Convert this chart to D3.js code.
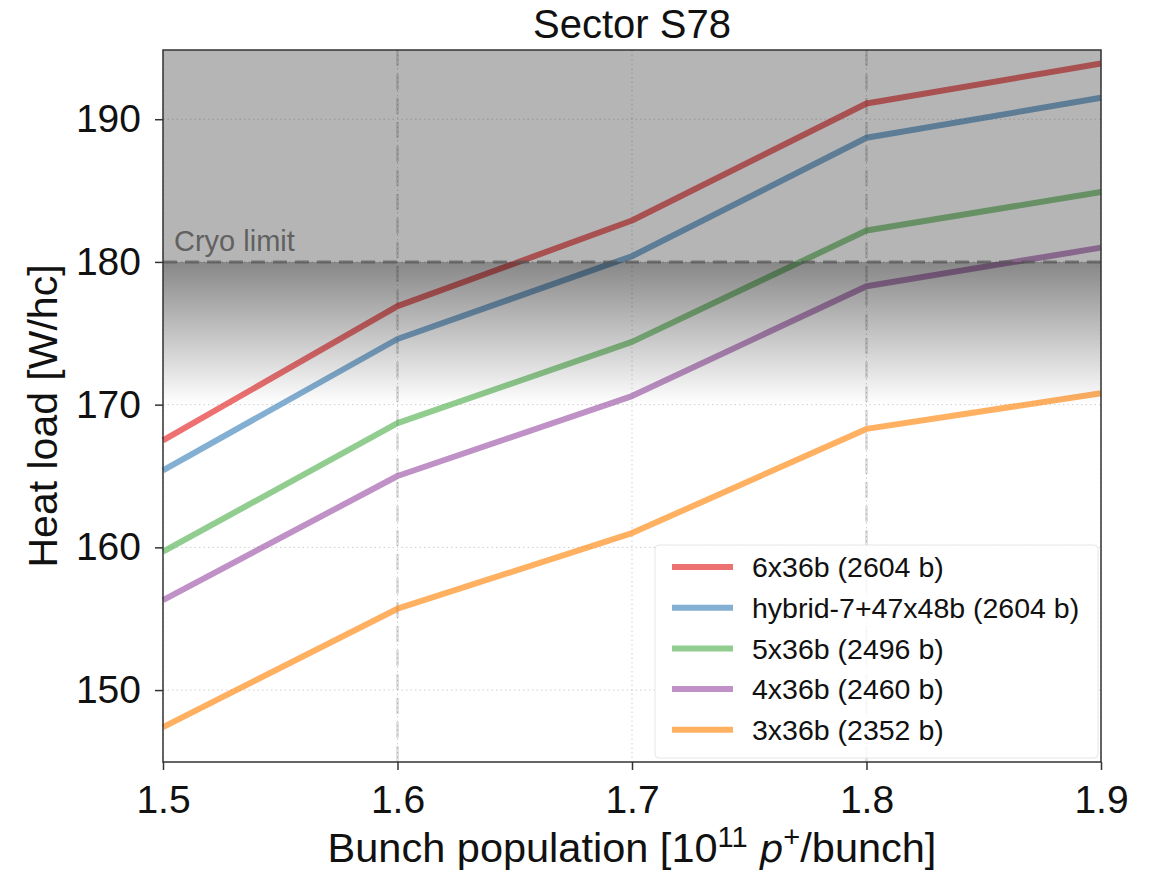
<!DOCTYPE html>
<html>
<head>
<meta charset="utf-8">
<script src="https://cdn.jsdelivr.net/npm/d3@7"></script>
<style>
  body { margin: 0; background: #fff; }
  svg text { font-family: "Liberation Sans", Arial, sans-serif; }
</style>
</head>
<body>
<div id="chart"></div>
<script>
// values
var bunchPop = [1.5, 1.6, 1.7, 1.8, 1.9];
var load6x36 = [167.5, 176.9, 182.9, 191.1, 193.9];
var loadHybrid = [165.4, 174.6, 180.4, 188.7, 191.5];
var load5x36 = [159.7, 168.7, 174.4, 182.2, 184.9];
var load4x36 = [156.3, 165.0, 170.6, 178.3, 181.0];
var load3x36 = [147.4, 155.7, 161.0, 168.3, 170.8];
var seriesNames = ["6x36b (2604 b)", "hybrid-7+47x48b (2604 b)", "5x36b (2496 b)", "4x36b (2460 b)", "3x36b (2352 b)"];
var seriesColors = ["#e41a1c", "#377eb8", "#4daf4a", "#984ea3", "#ff7f00"];
var xTicks = [1.5, 1.6, 1.7, 1.8, 1.9];
var yTicks = [150, 160, 170, 180, 190];
var dashedX = [1.6, 1.8];
var cryoLimit = 180;
var fadeTo = 170;

var series = [load6x36, loadHybrid, load5x36, load4x36, load3x36].map(function(vals, i) {
  return { name: seriesNames[i], color: seriesColors[i],
           points: vals.map(function(v, j) { return { x: bunchPop[j], y: v }; }) };
});

var svgWidth = 1150, svgHeight = 873;
var margin = { top: 50, right: 49, bottom: 111, left: 163 };
var width = svgWidth - margin.left - margin.right;
var height = svgHeight - margin.top - margin.bottom;

var svg = d3.select("#chart").append("svg")
  .attr("width", svgWidth)
  .attr("height", svgHeight);

var g = svg.append("g")
  .attr("transform", `translate(${margin.left}, ${margin.top})`);

var x = d3.scaleLinear().domain([1.5, 1.9]).range([0, width]);
var y = d3.scaleLinear().domain([144.96, 194.85]).range([height, 0]);

// dotted grid
g.append("g").selectAll("line")
  .data(yTicks).enter().append("line")
  .attr("x1", 0).attr("x2", width)
  .attr("y1", d => y(d)).attr("y2", d => y(d))
  .attr("stroke", "#cfcfcf").attr("stroke-width", 1)
  .attr("stroke-dasharray", "1.5,3");
g.append("g").selectAll("line")
  .data(xTicks).enter().append("line")
  .attr("y1", 0).attr("y2", height)
  .attr("x1", d => x(d)).attr("x2", d => x(d))
  .attr("stroke", "#cfcfcf").attr("stroke-width", 1)
  .attr("stroke-dasharray", "1.5,3");

// dashed vertical markers
g.append("g").selectAll("line")
  .data(dashedX).enter().append("line")
  .attr("y1", 0).attr("y2", height)
  .attr("x1", d => x(d)).attr("x2", d => x(d))
  .attr("stroke", "#000").attr("stroke-opacity", 0.12)
  .attr("stroke-width", 3)
  .attr("stroke-dasharray", "16,8");

// data lines
var line = d3.line().x(d => x(d.x)).y(d => y(d.y));
g.append("g").selectAll("path")
  .data(series).enter().append("path")
  .attr("d", d => line(d.points))
  .attr("fill", "none")
  .attr("stroke", d => d.color)
  .attr("stroke-opacity", 0.62)
  .attr("stroke-width", 6)
  .attr("stroke-linejoin", "round");

// shading above the cryo limit and fade below it
var defs = svg.append("defs");
var grad = defs.append("linearGradient")
  .attr("id", "fade").attr("x1", 0).attr("y1", 0).attr("x2", 0).attr("y2", 1);
grad.append("stop").attr("offset", "0%").attr("stop-color", "#000").attr("stop-opacity", 0.47);
grad.append("stop").attr("offset", "100%").attr("stop-color", "#000").attr("stop-opacity", 0);

g.append("rect")
  .attr("x", 0).attr("y", 0)
  .attr("width", width).attr("height", y(cryoLimit))
  .attr("fill", "#000").attr("fill-opacity", 0.29);
g.append("rect")
  .attr("x", 0).attr("y", y(cryoLimit))
  .attr("width", width).attr("height", y(fadeTo) - y(cryoLimit))
  .attr("fill", "url(#fade)");

// cryo limit line
g.append("line")
  .attr("x1", 0).attr("x2", width)
  .attr("y1", y(cryoLimit)).attr("y2", y(cryoLimit))
  .attr("stroke", "#555").attr("stroke-opacity", 0.7)
  .attr("stroke-width", 3)
  .attr("stroke-dasharray", "14,8");
g.append("text")
  .attr("x", 11).attr("y", y(cryoLimit) - 11)
  .attr("font-size", "29px")
  .attr("fill", "#616161")
  .text("Cryo limit");

// legend
var legend = g.append("g").attr("transform", `translate(${655 - margin.left}, ${545 - margin.top})`);
legend.append("rect")
  .attr("width", 443).attr("height", 213)
  .attr("rx", 4)
  .attr("fill", "#fff").attr("fill-opacity", 0.85)
  .attr("stroke", "#e6e6e6").attr("stroke-width", 1);
var items = legend.selectAll("g.item")
  .data(series).enter().append("g")
  .attr("class", "item")
  .attr("transform", (d, i) => `translate(0, ${22 + i * 40.7})`);
items.append("line")
  .attr("x1", 17).attr("x2", 78)
  .attr("stroke", d => d.color).attr("stroke-opacity", 0.62)
  .attr("stroke-width", 6);
items.append("text")
  .attr("x", 97).attr("dy", "0.36em")
  .attr("font-size", "28.5px")
  .attr("fill", "#111")
  .text(d => d.name);

// axes
var leftAxis = d3.axisLeft(y).tickValues(yTicks).tickSize(8).tickSizeOuter(0).tickPadding(14);
var bottomAxis = d3.axisBottom(x).tickValues(xTicks).tickSize(8).tickSizeOuter(0).tickPadding(15)
  .tickFormat(d3.format(".1f"));

var yAxis = g.append("g").call(leftAxis);
var xAxis = g.append("g").attr("transform", `translate(0, ${height})`).call(bottomAxis);
[yAxis, xAxis].forEach(function(a) {
  a.select(".domain").remove();
  a.selectAll("line").attr("stroke", "#333").attr("stroke-width", 1.5);
  a.selectAll("text").attr("font-size", "39px").attr("fill", "#111")
    .attr("font-family", "'Liberation Sans', Arial, sans-serif");
});

// frame
g.append("rect")
  .attr("width", width).attr("height", height)
  .attr("fill", "none").attr("stroke", "#333").attr("stroke-width", 1.5);

// title and axis labels
svg.append("text")
  .attr("x", margin.left + width / 2).attr("y", 38)
  .attr("text-anchor", "middle")
  .attr("font-size", "40px").attr("fill", "#111")
  .text("Sector S78");

var xLabel = svg.append("text")
  .attr("x", margin.left + width / 2).attr("y", 862)
  .attr("text-anchor", "middle")
  .attr("font-size", "41.5px").attr("fill", "#111");
xLabel.append("tspan").text("Bunch population [10");
xLabel.append("tspan").attr("font-size", "29px").attr("dy", "-15").text("11");
xLabel.append("tspan").attr("dy", "15").text(" ");
xLabel.append("tspan").attr("font-style", "italic").attr("font-family", "'DejaVu Sans', sans-serif").attr("font-size", "38px").text("p");
xLabel.append("tspan").attr("font-size", "29px").attr("dy", "-15").text("+");
xLabel.append("tspan").attr("dy", "15").text("/bunch]");

svg.append("text")
  .attr("transform", `translate(57, ${margin.top + height / 2 + 10}) rotate(-90)`)
  .attr("text-anchor", "middle")
  .attr("font-size", "41px").attr("fill", "#111")
  .text("Heat load [W/hc]");
</script>
</body>
</html>
